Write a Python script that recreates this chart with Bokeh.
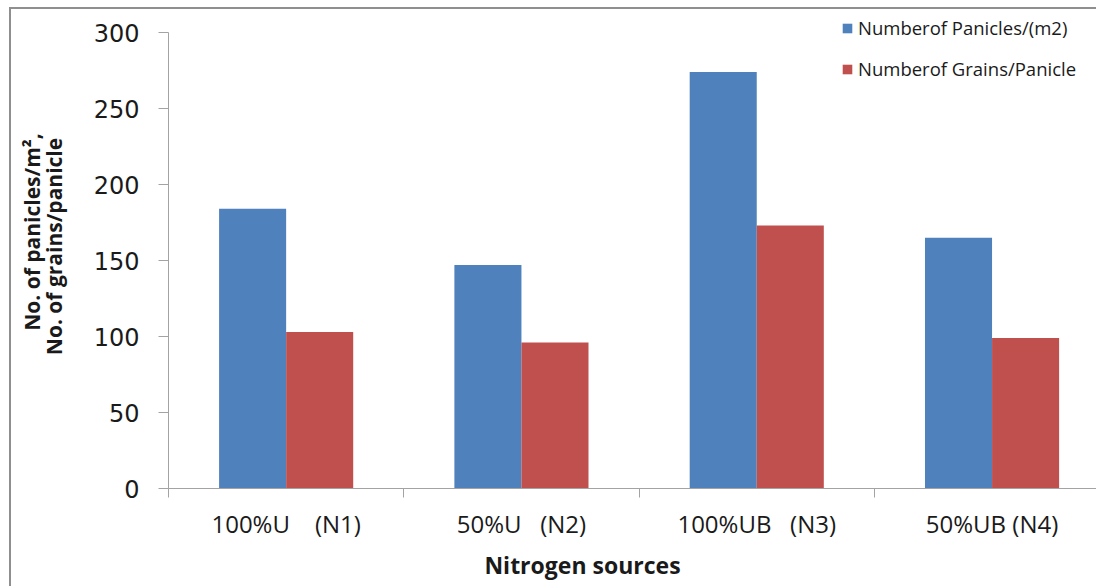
from math import pi

import numpy as np
from bokeh.embed import file_html
from bokeh.models import (ColumnDataSource, FixedTicker, Label, Legend,
                          LegendItem, LinearAxis, Range1d, SingleIntervalTicker)
from bokeh.plotting import figure
from bokeh.resources import INLINE

# ---- data -------------------------------------------------------------
NB = "\u00a0"
categories = ["100%U" + NB * 4 + "(N1)", "50%U" + NB * 3 + "(N2)",
              "100%UB" + NB * 3 + "(N3)", "50%UB (N4)"]
panicles_per_m2 = [184, 147, 274, 165]
grains_per_panicle = [103, 96, 173, 99]
series_names = ["Numberof Panicles/(m2)", "Numberof Grains/Panicle"]
y_title_lines = ["No. of panicles/m\u00b2,", "No. of grains/panicle"]
x_title = "Nitrogen sources"
y_max = 300
y_ticks_step = 50

BLUE = "#4f81bd"
RED = "#c0504d"
AXIS = "#a3a3a3"
TXT = "#1a1a1a"
FONT = "Open Sans"

# canvas sits inside a thin grey frame (left/top edges)
OFF_X, OFF_Y = 11, 9
W, H = 1098 - OFF_X, 588 - OFF_Y
AXIS_LEFT_PX, ZERO_PX, TOP_TICK_PX = 168, 488, 32
FRAME_TOP_PX, FRAME_BOTTOM_PX = 12, 545
px_per_unit = (ZERO_PX - TOP_TICK_PX) / y_max
cat_px = 235.3


def to_x(page_x):
    return round((page_x - AXIS_LEFT_PX) / cat_px, 4)


def to_y(page_y):
    return round((ZERO_PX - page_y) / px_per_unit, 3)


# the plotting frame spans nearly the whole canvas; both axes are pinned at
# zero so tick labels and the title live inside the frame around them
x_start, x_end = to_x(OFF_X), to_x(1098)
y_start, y_end = to_y(FRAME_BOTTOM_PX), to_y(FRAME_TOP_PX)

p = figure(width=W, height=H, output_backend="svg", toolbar_location=None,
           x_range=Range1d(x_start, x_end), y_range=Range1d(y_start, y_end),
           min_border_left=0, min_border_top=FRAME_TOP_PX - OFF_Y,
           min_border_bottom=H - (FRAME_BOTTOM_PX - OFF_Y), min_border_right=0,
           margin=(OFF_Y - 2, 0, 0, OFF_X - 2))
p.styles = {"border-left": "2px solid #8f8f8f", "border-top": "2px solid #8f8f8f"}
p.outline_line_color = None
p.xgrid.visible = False
p.ygrid.visible = False
p.background_fill_color = "white"
p.border_fill_color = "white"

idx = np.arange(len(categories))
bar_w = 0.285
src = ColumnDataSource(dict(
    xb=idx + 0.5 - bar_w / 2,
    xr=idx + 0.5 + bar_w / 2,
    pan=panicles_per_m2,
    gra=grains_per_panicle,
))
r1 = p.vbar(x="xb", top="pan", width=bar_w, bottom=0, source=src,
            fill_color=BLUE, line_color=None)
r2 = p.vbar(x="xr", top="gra", width=bar_w, bottom=0, source=src,
            fill_color=RED, line_color=None)

# ---- category axis ----------------------------------------------------
xa = p.xaxis[0]
xa.fixed_location = 0
xa.ticker = FixedTicker(ticks=list(idx + 0.5), minor_ticks=list(range(len(categories) + 1)))
xa.major_label_overrides = {float(i + 0.5): c for i, c in enumerate(categories)}
xa.bounds = (0, x_end)
xa.major_tick_out = 0
xa.major_tick_in = 0
xa.minor_tick_out = 9
xa.minor_tick_in = 0
xa.minor_tick_line_color = AXIS
xa.axis_line_color = AXIS
xa.major_label_text_font = FONT
xa.major_label_text_font_size = "24px"
xa.major_label_text_color = TXT
xa.major_label_standoff = 9

# ---- value axis -------------------------------------------------------
ya = p.yaxis[0]
ya.fixed_location = 0
ya.ticker = SingleIntervalTicker(interval=y_ticks_step, num_minor_ticks=0)
ya.bounds = (0, y_max)
ya.major_tick_out = 10
ya.major_tick_in = 0
ya.minor_tick_out = 0
ya.minor_tick_in = 0
ya.major_tick_line_color = AXIS
ya.axis_line_color = AXIS
ya.major_label_text_font = "DejaVu Sans"
ya.major_label_text_font_size = "24px"
ya.major_label_text_color = TXT
ya.major_label_standoff = 19

# x-axis title as a single-label axis below the frame
xt_pos = to_x(582)
p.add_layout(LinearAxis(ticker=FixedTicker(ticks=[xt_pos]),
                        major_label_overrides={xt_pos: x_title},
                        axis_line_color=None, major_tick_line_color=None,
                        minor_tick_line_color=None,
                        major_tick_in=0, major_tick_out=0,
                        major_label_standoff=3,
                        major_label_text_font=FONT,
                        major_label_text_font_size="23px",
                        major_label_text_font_style="bold",
                        major_label_text_color=TXT), "below")

# two-line y-axis title (rotated; baseline on the right of the glyphs)
for txt, bx, cy in [(y_title_lines[0], 31, 231.5), (y_title_lines[1], 54, 246)]:
    p.add_layout(Label(x=to_x(bx), y=to_y(cy), text=txt, angle=pi / 2,
                       text_align="center", text_baseline="alphabetic",
                       text_font=FONT, text_font_size="21px",
                       text_font_style="bold", text_color=TXT))

# ---- legend -----------------------------------------------------------
legend = Legend(items=[LegendItem(label=series_names[0], renderers=[r1]),
                       LegendItem(label=series_names[1], renderers=[r2])],
                location=(841 - OFF_X, 407 + (FRAME_BOTTOM_PX - ZERO_PX)),
                orientation="vertical",
                glyph_width=12, glyph_height=12, label_height=12,
                label_standoff=5, spacing=16, padding=0, margin=0,
                border_line_color=None, background_fill_alpha=0,
                label_text_font=FONT, label_text_font_size="18.5px",
                label_text_color=TXT)
p.add_layout(legend)

open("out.html", "w").write(file_html(p, INLINE))
